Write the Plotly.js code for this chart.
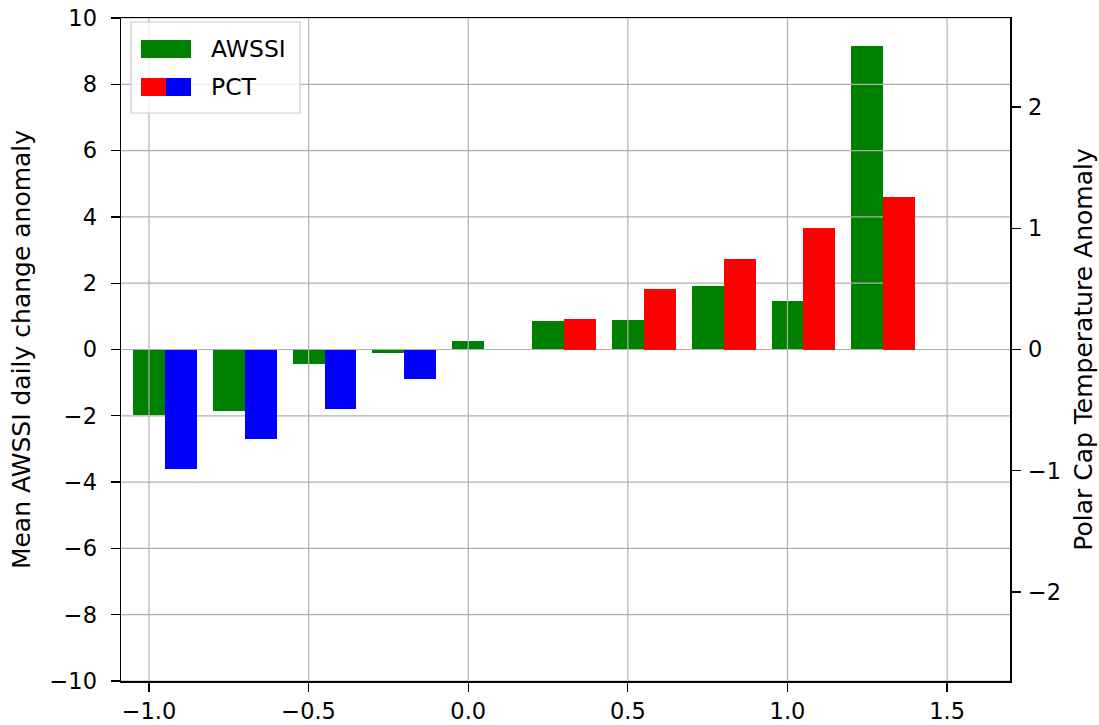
<!DOCTYPE html>
<html>
<head>
<meta charset="utf-8">
<script src="https://cdn.plot.ly/plotly-3.0.1.min.js"></script>
<style>
  html, body { margin: 0; padding: 0; background: #ffffff; }
  #chart { width: 1099px; height: 725px; }
</style>
</head>
<body>
<div id="chart"></div>
<script>
// Bin centres of the index anomaly
const bins = [-1.0, -0.75, -0.5, -0.25, 0.0, 0.25, 0.5, 0.75, 1.0, 1.25];

// Mean AWSSI daily change anomaly per bin (left axis)
const awssi = [-1.97, -1.84, -0.45, -0.12, 0.25, 0.85, 0.90, 1.93, 1.45, 9.15];

// Polar cap temperature anomaly per bin (right axis)
const pct = [-0.99, -0.74, -0.49, -0.24, 0.0, 0.25, 0.50, 0.75, 1.00, 1.26];

// Axis ticks
const xTicks = [-1.0, -0.5, 0.0, 0.5, 1.0, 1.5];
const yTicks = [-10, -8, -6, -4, -2, 0, 2, 4, 6, 8, 10];
const y2Ticks = [-2, -1, 0, 1, 2];

const xRange = [-1.0876, 1.697];
const yRange = [-10, 10];
const y2Range = [-2.735, 2.735];

const FONT = 'DejaVu Sans, Verdana, sans-serif';
const GRID = '#b0b0b0';
const TICK_SIZE = 22.5;
const TITLE_SIZE = 25;
const LEGEND_SIZE = 23.5;

// Grid drawn as a line trace so it sits above the AWSSI bars
// but below the PCT bars on the twin axis.
const gx = [], gy = [];
xTicks.forEach(t => { gx.push(t, t, null); gy.push(yRange[0], yRange[1], null); });
yTicks.forEach(t => { gx.push(xRange[0], xRange[1], null); gy.push(t, t, null); });

const pctColors = pct.map(v => (v < 0 ? '#0000ff' : '#ff0000'));

const traces = [
  {
    type: 'bar', name: 'AWSSI', x: bins, y: awssi,
    width: 0.1, offset: -0.05,
    marker: { color: '#008000', line: { width: 0 } },
    xaxis: 'x', yaxis: 'y', showlegend: false
  },
  {
    type: 'scatter', mode: 'lines', x: gx, y: gy,
    line: { color: GRID, width: 1.2 },
    hoverinfo: 'skip', showlegend: false,
    xaxis: 'x', yaxis: 'y'
  },
  {
    type: 'bar', name: 'PCT', x: bins, y: pct,
    width: 0.1, offset: 0.05,
    marker: { color: pctColors, line: { width: 0 } },
    xaxis: 'x', yaxis: 'y2', showlegend: false
  }
];

// Plot area in pixels, used to place the legend box in paper units
const L = 121, R = 1010, T = 18, B = 681;
const px = p => (p - L) / (R - L);
const py = p => (B - p) / (B - T);

const shapes = [
  // legend frame
  { type: 'rect', xref: 'paper', yref: 'paper',
    x0: px(131), x1: px(300), y0: py(113), y1: py(22),
    line: { color: '#cccccc', width: 1.2 }, fillcolor: 'rgba(255,255,255,0.8)', layer: 'above' },
  // AWSSI patch
  { type: 'rect', xref: 'paper', yref: 'paper',
    x0: px(141), x1: px(191), y0: py(58), y1: py(40),
    line: { width: 0 }, fillcolor: '#008000', layer: 'above' },
  // PCT split patch
  { type: 'rect', xref: 'paper', yref: 'paper',
    x0: px(141), x1: px(166), y0: py(96), y1: py(78),
    line: { width: 0 }, fillcolor: '#ff0000', layer: 'above' },
  { type: 'rect', xref: 'paper', yref: 'paper',
    x0: px(166), x1: px(191), y0: py(96), y1: py(78),
    line: { width: 0 }, fillcolor: '#0000ff', layer: 'above' }
];

const annotations = [
  { xref: 'paper', yref: 'paper', x: px(209), y: py(49), text: 'AWSSI',
    showarrow: false, xanchor: 'left', yanchor: 'middle',
    font: { family: FONT, size: LEGEND_SIZE, color: '#000000' } },
  { xref: 'paper', yref: 'paper', x: px(209), y: py(87), text: 'PCT',
    showarrow: false, xanchor: 'left', yanchor: 'middle',
    font: { family: FONT, size: LEGEND_SIZE, color: '#000000' } }
];

const axisCommon = {
  ticks: 'outside', ticklen: 9, tickwidth: 1.3, tickcolor: '#000000',
  showline: true, linecolor: '#000000', linewidth: 1.5,
  zeroline: false, showgrid: false,
  tickfont: { family: FONT, size: TICK_SIZE, color: '#000000' }
};

const layout = {
  width: 1099, height: 725,
  margin: { l: L, r: 1099 - R, t: T, b: 725 - B, pad: 0 },
  paper_bgcolor: '#ffffff', plot_bgcolor: '#ffffff',
  barmode: 'overlay', bargap: 0,
  showlegend: false,
  font: { family: FONT, size: TICK_SIZE, color: '#000000' },
  xaxis: Object.assign({}, axisCommon, {
    range: xRange, tickmode: 'array', tickvals: xTicks, tickformat: '.1f',
    mirror: true, ticklabelstandoff: 0
  }),
  yaxis: Object.assign({}, axisCommon, {
    range: yRange, tickmode: 'array', tickvals: yTicks,
    mirror: false, ticklabelstandoff: 9,
    title: { text: 'Mean AWSSI daily change anomaly', standoff: 12,
             font: { family: FONT, size: TITLE_SIZE, color: '#000000' } }
  }),
  yaxis2: Object.assign({}, axisCommon, {
    range: y2Range, tickmode: 'array', tickvals: y2Ticks,
    overlaying: 'y', side: 'right', ticklabelstandoff: 3,
    title: { text: 'Polar Cap Temperature Anomaly', standoff: 14,
             font: { family: FONT, size: TITLE_SIZE, color: '#000000' } }
  }),
  shapes: shapes,
  annotations: annotations
};

Plotly.newPlot('chart', traces, layout, { displayModeBar: false, staticPlot: true });
</script>
</body>
</html>
